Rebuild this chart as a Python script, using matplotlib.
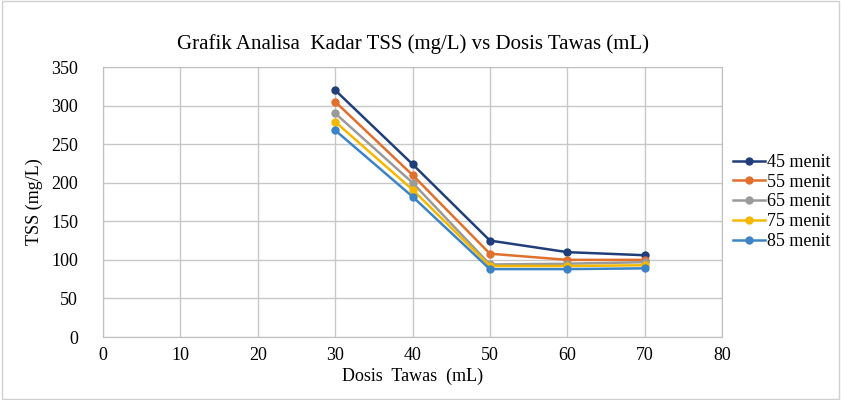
import matplotlib.pyplot as plt

plt.rcParams['font.family'] = ['Liberation Serif', 'DejaVu Serif']

dosis = [30, 40, 50, 60, 70]
tss_45 = [320, 224, 125, 110, 106]
tss_55 = [305, 210, 108, 100, 100]
tss_65 = [290, 200, 94, 95, 97]
tss_75 = [279, 191, 92, 92, 93]
tss_85 = [268, 182, 88, 88, 89]

series = [
    ('45 menit', tss_45, '#203f7a'),
    ('55 menit', tss_55, '#e0702c'),
    ('65 menit', tss_65, '#9a9a9a'),
    ('75 menit', tss_75, '#f5b800'),
    ('85 menit', tss_85, '#3c84c6'),
]

fig = plt.figure(figsize=(8.41, 4.0), dpi=100)
ax = fig.add_axes([0.1225, 0.1575, 0.736, 0.675])

for label, vals, color in series:
    ax.plot(dosis, vals, marker='o', markersize=5, linewidth=1.8, color=color, label=label)

ax.set_xlim(0, 80)
ax.set_ylim(0, 350)
ax.set_xticks(range(0, 81, 10))
ax.set_yticks(range(0, 351, 50))
ax.grid(True, color='#c8c8c8', linewidth=1)
ax.set_axisbelow(True)
for s in ax.spines.values():
    s.set_color('#bfbfbf')
ax.tick_params(length=0, labelsize=13)
ax.tick_params(axis='y', pad=18)
ax.tick_params(axis='x', pad=7)

ax.set_xlabel('Dosis  Tawas  (mL)', fontsize=13, labelpad=3)
ax.set_ylabel('TSS (mg/L)', fontsize=13, labelpad=6)
ax.set_title('Grafik Analisa  Kadar TSS (mg/L) vs Dosis Tawas (mL)', fontsize=15, pad=13)

ax.legend(loc='center left', bbox_to_anchor=(1.0, 0.5), frameon=False, fontsize=13,
          handlelength=1.8, handletextpad=0.1, labelspacing=0.15, borderaxespad=0.2)

fig.patches.append(plt.Rectangle((0.002, 0.002), 0.996, 0.996, transform=fig.transFigure,
                                 fill=False, edgecolor='#d0d0d0', linewidth=1))

plt.savefig('out.png', dpi=100)
